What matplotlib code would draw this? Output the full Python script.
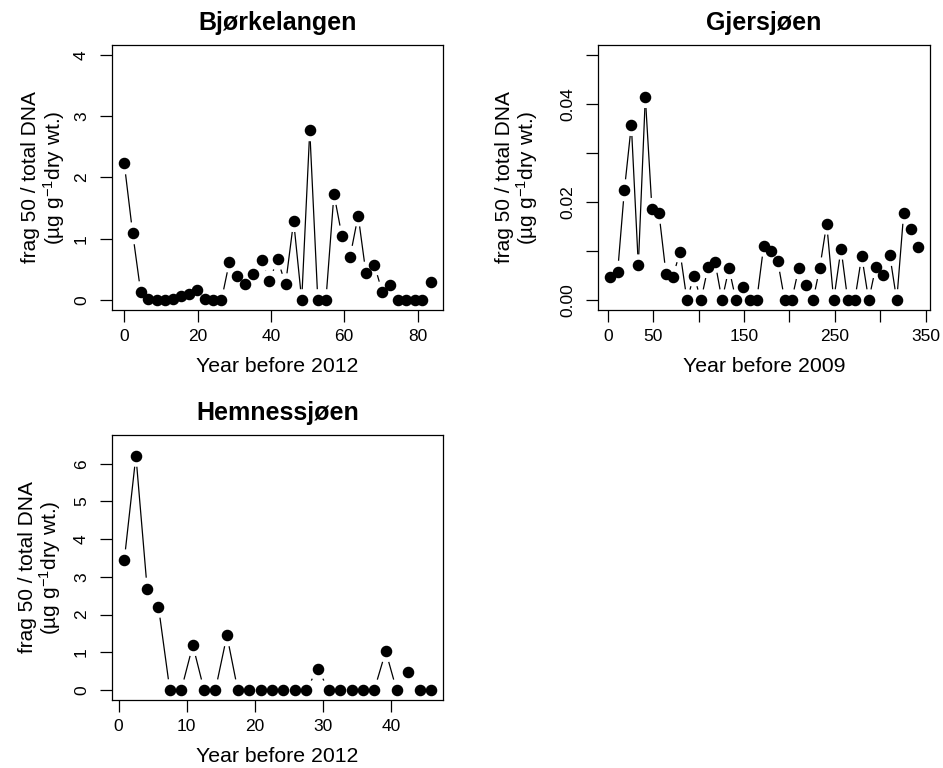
import numpy as np
import matplotlib
matplotlib.use("Agg")
import matplotlib.pyplot as plt

plt.rcParams['font.family'] = ['Liberation Sans', 'DejaVu Sans']
plt.rcParams['mathtext.fontset'] = 'custom'
plt.rcParams['mathtext.rm'] = 'Liberation Sans'
plt.rcParams['mathtext.it'] = 'Liberation Sans:italic'

# Bjørkelangen core
bjork_year = [0.0, 2.3, 4.5, 6.6, 8.9, 11.1, 13.2, 15.4, 17.6, 19.8,
              22.0, 24.3, 26.5, 28.7, 30.7, 33.0, 35.2, 37.5, 39.6, 41.8,
              44.0, 46.2, 48.4, 50.6, 52.8, 55.0, 57.2, 59.4, 61.6, 63.8,
              65.9, 68.2, 70.4, 72.6, 74.7, 76.9, 79.2, 81.3, 83.6]
bjork_val = [2.23, 1.09, 0.13, 0.02, 0.0, 0.01, 0.02, 0.07, 0.10, 0.16,
             0.02, 0.0, 0.0, 0.63, 0.40, 0.26, 0.42, 0.65, 0.31, 0.67,
             0.26, 1.29, 0.0, 2.77, 0.0, 0.0, 1.73, 1.04, 0.71, 1.38,
             0.45, 0.58, 0.13, 0.24, 0.0, 0.0, 0.0, 0.0, 0.29]

# Gjersjøen core
gjer_year = [2.6, 10.7, 18.1, 25.8, 33.5, 41.2, 48.5, 56.2, 64.0, 71.7,
             79.4, 87.1, 94.8, 102.5, 110.3, 118.0, 125.7, 133.4, 141.1, 148.8,
             156.2, 164.0, 171.7, 179.4, 187.1, 194.8, 202.5, 210.3, 218.0, 226.0,
             233.4, 241.1, 248.8, 256.9, 264.3, 272.0, 279.7, 287.4, 295.1, 302.9,
             310.6, 318.3, 326.0, 333.7, 341.4]
gjer_val = [0.0048, 0.0058, 0.0224, 0.0357, 0.0071, 0.0414, 0.0186, 0.0178, 0.0054, 0.0048,
            0.0099, 0.0, 0.0050, 0.0, 0.0067, 0.0078, 0.0, 0.0065, 0.0, 0.0027,
            0.0, 0.0, 0.0111, 0.0100, 0.0080, 0.0, 0.0, 0.0065, 0.0030, 0.0,
            0.0065, 0.0156, 0.0, 0.0105, 0.0, 0.0, 0.0090, 0.0, 0.0067, 0.0052,
            0.0092, 0.0, 0.0178, 0.0145, 0.0109]

# Hemnessjøen core
hemn_year = [0.84, 2.55, 4.2, 5.86, 7.53, 9.19, 10.9, 12.56, 14.2, 15.9,
             17.5, 19.2, 20.9, 22.5, 24.2, 25.9, 27.5, 29.2, 30.9, 32.5,
             34.2, 35.8, 37.5, 39.2, 40.8, 42.5, 44.2, 45.8]
hemn_val = [3.44, 6.21, 2.69, 2.21, 0.0, 0.0, 1.19, 0.0, 0.0, 1.45,
            0.0, 0.0, 0.0, 0.0, 0.0, 0.0, 0.0, 0.56, 0.0, 0.0,
            0.0, 0.0, 0.0, 1.03, 0.0, 0.47, 0.0, 0.0]

W, H = 943, 768
DPI = 100
fig = plt.figure(figsize=(W / DPI, H / DPI), dpi=DPI)

PX = 72.0 / DPI   # points per pixel
GAP = 11          # gap around points for the broken line, in pixels


def add_panel(left, top, right, bottom):
    return fig.add_axes([left / W, 1 - bottom / H, (right - left) / W, (bottom - top) / H])


def r_lim(lo, hi):
    pad = 0.04 * (hi - lo)
    return lo - pad, hi + pad


def broken_line(ax, x, y):
    # points joined by segments that stop short of each marker
    tr = ax.transData
    inv = tr.inverted()
    pts = tr.transform(np.column_stack([x, y]))
    for p1, p2 in zip(pts[:-1], pts[1:]):
        d = p2 - p1
        L = np.hypot(*d)
        if L <= 2 * GAP:
            continue
        u = d / L
        a, b = inv.transform([p1 + u * GAP, p2 - u * GAP])
        ax.plot([a[0], b[0]], [a[1], b[1]], color='black', lw=0.9, solid_capstyle='butt')
    ax.plot(x, y, 'o', color='black', ms=7.3, mec='black', zorder=3)


def style(ax, title, xlabel, xlim, ylim, xticks, xticklabels, yticks, yticklabels,
          ylab_off=(80, 58)):
    ax.set_xlim(*xlim)
    ax.set_ylim(*ylim)
    ax.set_xticks(xticks)
    ax.set_xticklabels(xticklabels)
    ax.set_yticks(yticks)
    ax.set_yticklabels(yticklabels, rotation=90, va='center')
    for s in ax.spines.values():
        s.set_linewidth(0.9)
    ax.tick_params(length=12 * PX, width=0.9, labelsize=12.5)
    ax.tick_params(axis='x', pad=7 * PX)
    ax.tick_params(axis='y', pad=11 * PX)
    ax.annotate(title, xy=(0.5, 1), xycoords='axes fraction', xytext=(0, 22 * PX),
                textcoords='offset points', ha='center', va='center',
                fontsize=18, fontweight='bold')
    ax.annotate(xlabel, xy=(0.5, 0), xycoords='axes fraction', xytext=(0, -57 * PX),
                textcoords='offset points', ha='center', va='center', fontsize=15.3)
    ax.annotate('frag 50 / total DNA', xy=(0, 0.5), xycoords='axes fraction',
                xytext=(-ylab_off[0] * PX, 0), textcoords='offset points',
                ha='center', va='center', rotation=90, fontsize=15)
    ax.annotate('(µg g$^{-1}$dry wt.)', xy=(0, 0.5), xycoords='axes fraction',
                xytext=(-ylab_off[1] * PX, 0), textcoords='offset points',
                ha='center', va='center', rotation=90, fontsize=15)


ax1 = add_panel(112, 45, 443, 310)
style(ax1, 'Bjørkelangen', 'Year before 2012',
      r_lim(0, 83.6), r_lim(0, 4),
      [0, 20, 40, 60, 80], ['0', '20', '40', '60', '80'],
      [0, 1, 2, 3, 4], ['0', '1', '2', '3', '4'], ylab_off=(81, 58))
broken_line(ax1, bjork_year, bjork_val)

ax2 = add_panel(598, 45, 930, 310)
style(ax2, 'Gjersjøen', 'Year before 2009',
      r_lim(2.6, 341.4), r_lim(0, 0.05),
      [0, 50, 100, 150, 200, 250, 300, 350], ['0', '50', '', '150', '', '250', '', '350'],
      [0, 0.01, 0.02, 0.03, 0.04, 0.05], ['0.00', '', '0.02', '', '0.04', ''],
      ylab_off=(94, 71))
broken_line(ax2, gjer_year, gjer_val)

ax3 = add_panel(112, 435, 443, 700)
style(ax3, 'Hemnessjøen', 'Year before 2012',
      r_lim(0.84, 45.8), r_lim(0, 6.5),
      [0, 10, 20, 30, 40], ['0', '10', '20', '30', '40'],
      [0, 1, 2, 3, 4, 5, 6], ['0', '1', '2', '3', '4', '5', '6'],
      ylab_off=(85, 62))
broken_line(ax3, hemn_year, hemn_val)

fig.savefig('out.png', dpi=DPI)
